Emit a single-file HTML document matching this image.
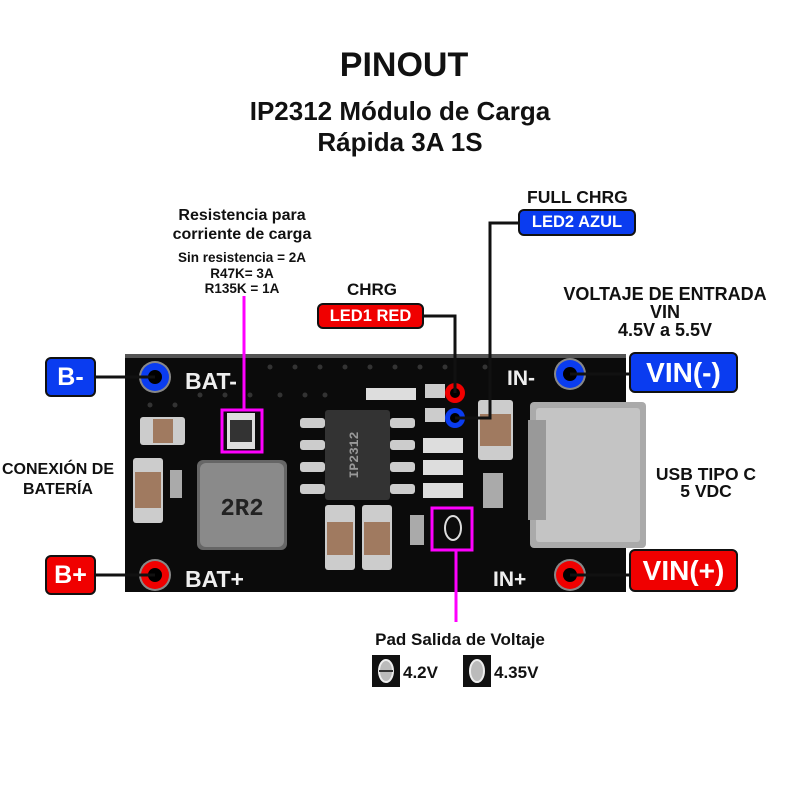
<!DOCTYPE html>
<html><head><meta charset="utf-8"><style>
html,body{margin:0;padding:0;background:#fff;}
body{width:800px;height:800px;position:relative;overflow:hidden;font-family:"Liberation Sans","DejaVu Sans",sans-serif;font-weight:bold;color:#111;}
.t{position:absolute;text-align:center;white-space:nowrap;}
.box{position:absolute;border:2px solid #111;border-radius:6px;color:#fff;display:flex;align-items:center;justify-content:center;box-sizing:border-box;}
.blue{background:#0a3cf0;}
.red{background:#f00000;}
</style></head><body>
<div class="t" style="left:0;width:808px;top:46px;font-size:34px;">PINOUT</div>
<div class="t" style="left:0;width:800px;top:96px;font-size:26px;line-height:31px;">IP2312 Módulo de Carga<br>Rápida 3A 1S</div>

<div class="t" style="left:142px;width:200px;top:206px;font-size:16px;line-height:19px;">Resistencia para<br>corriente de carga</div>
<div class="t" style="left:142px;width:200px;top:250px;font-size:13.5px;line-height:15.5px;">Sin resistencia = 2A<br>R47K= 3A<br>R135K = 1A</div>

<div class="t" style="left:322px;width:100px;top:280px;font-size:17px;">CHRG</div>
<div class="t" style="left:527px;width:100px;top:187px;font-size:17.5px;">FULL CHRG</div>
<div class="t" style="left:545px;width:240px;top:285px;font-size:18px;line-height:18px;">VOLTAJE DE ENTRADA<br>VIN<br>4.5V a 5.5V</div>
<div class="t" style="left:-2px;width:120px;top:460px;font-size:16px;line-height:20px;">CONEXIÓN DE<br>BATERÍA</div>
<div class="t" style="left:641px;width:130px;top:466px;font-size:17.5px;line-height:17px;">USB TIPO C<br>5 VDC</div>
<div class="t" style="left:350px;width:220px;top:630px;font-size:17px;">Pad Salida de Voltaje</div>

<svg width="800" height="800" style="position:absolute;left:0;top:0" xmlns="http://www.w3.org/2000/svg">
  <rect x="125" y="354" width="501" height="238" fill="#0b0b0b"/>
  <rect x="125" y="354" width="501" height="4" fill="#555"/>
  <g fill="#333">
    <circle cx="270" cy="367" r="2.5"/><circle cx="295" cy="367" r="2.5"/><circle cx="320" cy="367" r="2.5"/><circle cx="345" cy="367" r="2.5"/><circle cx="370" cy="367" r="2.5"/><circle cx="395" cy="367" r="2.5"/><circle cx="420" cy="367" r="2.5"/><circle cx="445" cy="367" r="2.5"/><circle cx="485" cy="367" r="2.5"/>
    <circle cx="150" cy="405" r="2.5"/><circle cx="175" cy="405" r="2.5"/><circle cx="200" cy="395" r="2.5"/><circle cx="225" cy="395" r="2.5"/><circle cx="250" cy="395" r="2.5"/><circle cx="280" cy="395" r="2.5"/><circle cx="305" cy="395" r="2.5"/><circle cx="325" cy="395" r="2.5"/>
  </g>
  <rect x="140" y="417" width="45" height="28" rx="3" fill="#ccc"/><rect x="153" y="419" width="20" height="24" fill="#a07a60"/>
  <rect x="133" y="458" width="30" height="65" rx="3" fill="#ccc"/><rect x="135" y="472" width="26" height="36" fill="#a07a60"/>
  <rect x="170" y="470" width="12" height="28" fill="#aaa"/>
  <rect x="227" y="413" width="28" height="36" fill="#ddd"/><rect x="230" y="420" width="22" height="22" fill="#333"/>
  <rect x="197" y="460" width="90" height="90" rx="6" fill="#666"/>
  <rect x="200" y="463" width="84" height="84" rx="6" fill="#8a8a8a"/>
  <text x="242" y="515" font-size="24" fill="#222" text-anchor="middle" font-family="Liberation Mono,monospace">2R2</text>
  <rect x="300" y="418" width="25" height="10" rx="3" fill="#ccc"/><rect x="300" y="440" width="25" height="10" rx="3" fill="#ccc"/><rect x="300" y="462" width="25" height="10" rx="3" fill="#ccc"/><rect x="300" y="484" width="25" height="10" rx="3" fill="#ccc"/>
  <rect x="390" y="418" width="25" height="10" rx="3" fill="#ccc"/><rect x="390" y="440" width="25" height="10" rx="3" fill="#ccc"/><rect x="390" y="462" width="25" height="10" rx="3" fill="#ccc"/><rect x="390" y="484" width="25" height="10" rx="3" fill="#ccc"/>
  <rect x="325" y="410" width="65" height="90" rx="3" fill="#333"/>
  <text x="358" y="455" font-size="13" fill="#999" text-anchor="middle" transform="rotate(-90 358 455)" font-family="Liberation Mono,monospace">IP2312</text>
  <rect x="366" y="388" width="50" height="12" fill="#ddd"/>
  <rect x="423" y="438" width="40" height="15" fill="#ddd"/>
  <rect x="423" y="460" width="40" height="15" fill="#ddd"/>
  <rect x="423" y="483" width="40" height="15" fill="#ddd"/>
  <rect x="425" y="384" width="20" height="14" fill="#ccc"/><rect x="425" y="408" width="20" height="14" fill="#ccc"/>
  <rect x="325" y="505" width="30" height="65" rx="3" fill="#ccc"/><rect x="327" y="522" width="26" height="33" fill="#a07a60"/>
  <rect x="362" y="505" width="30" height="65" rx="3" fill="#ccc"/><rect x="364" y="522" width="26" height="33" fill="#a07a60"/>
  <rect x="410" y="515" width="14" height="30" fill="#aaa"/>
  <ellipse cx="453" cy="528" rx="8" ry="12" fill="none" stroke="#ddd" stroke-width="2"/>
  <rect x="478" y="400" width="35" height="60" rx="3" fill="#ccc"/><rect x="480" y="414" width="31" height="32" fill="#a07a60"/>
  <rect x="483" y="473" width="20" height="35" fill="#aaa"/>
  <rect x="530" y="402" width="116" height="146" rx="4" fill="#aaa"/>
  <rect x="536" y="408" width="104" height="134" rx="3" fill="#c4c4c4"/>
  <rect x="528" y="420" width="18" height="100" fill="#999"/>
  <circle cx="155" cy="377" r="16" fill="#888"/><circle cx="155" cy="377" r="14" fill="#0a3cf0"/><circle cx="155" cy="377" r="7" fill="#000"/>
  <circle cx="155" cy="575" r="16" fill="#888"/><circle cx="155" cy="575" r="14" fill="#f00000"/><circle cx="155" cy="575" r="7" fill="#000"/>
  <circle cx="570" cy="374" r="16" fill="#888"/><circle cx="570" cy="374" r="14" fill="#0a3cf0"/><circle cx="570" cy="374" r="7" fill="#000"/>
  <circle cx="570" cy="575" r="16" fill="#888"/><circle cx="570" cy="575" r="14" fill="#f00000"/><circle cx="570" cy="575" r="7" fill="#000"/>
  <text x="185" y="389" font-size="23" fill="#eee" font-family="Liberation Sans" font-weight="bold">BAT-</text>
  <text x="185" y="587" font-size="23" fill="#eee" font-family="Liberation Sans" font-weight="bold">BAT+</text>
  <text x="507" y="385" font-size="21" fill="#eee" font-family="Liberation Sans" font-weight="bold">IN-</text>
  <text x="493" y="586" font-size="21" fill="#eee" font-family="Liberation Sans" font-weight="bold">IN+</text>
  <circle cx="455" cy="393" r="10" fill="#f00000"/><circle cx="455" cy="393" r="5" fill="#000"/>
  <circle cx="455" cy="418" r="10" fill="#0a3cf0"/><circle cx="455" cy="418" r="5" fill="#000"/>
  <g stroke="#111" stroke-width="3" fill="none">
    <line x1="95" y1="377" x2="155" y2="377"/>
    <line x1="95" y1="575" x2="155" y2="575"/>
    <line x1="570" y1="374" x2="630" y2="374"/>
    <line x1="570" y1="575" x2="630" y2="575"/>
    <polyline points="423,316 455,316 455,393"/>
    <polyline points="518,223 490,223 490,418 455,418"/>
  </g>
  <g stroke="#ff00ff" stroke-width="3" fill="none">
    <line x1="244" y1="296" x2="244" y2="410"/>
    <rect x="222" y="410" width="40" height="42"/>
    <rect x="432" y="508" width="40" height="42"/>
    <line x1="456" y1="550" x2="456" y2="622"/>
  </g>
  <rect x="372" y="655" width="28" height="32" fill="#111"/>
  <ellipse cx="386" cy="671" rx="7" ry="11" fill="#bbb" stroke="#eee" stroke-width="2"/>
  <line x1="379" y1="671" x2="393" y2="671" stroke="#333" stroke-width="2"/>
  <rect x="463" y="655" width="28" height="32" fill="#111"/>
  <ellipse cx="477" cy="671" rx="7" ry="11" fill="#bbb" stroke="#eee" stroke-width="2"/>
  <text x="403" y="678" font-size="17" fill="#111" font-weight="bold" font-family="Liberation Sans">4.2V</text>
  <text x="494" y="678" font-size="17" fill="#111" font-weight="bold" font-family="Liberation Sans">4.35V</text>
</svg>

<div class="box blue" style="left:45px;top:357px;width:51px;height:40px;font-size:25px;">B-</div>
<div class="box red" style="left:45px;top:555px;width:51px;height:40px;font-size:25px;">B+</div>
<div class="box blue" style="left:629px;top:352px;width:109px;height:41px;font-size:28px;">VIN(-)</div>
<div class="box red" style="left:629px;top:549px;width:109px;height:43px;font-size:28px;">VIN(+)</div>
<div class="box red" style="left:317px;top:303px;width:107px;height:26px;font-size:16.5px;">LED1 RED</div>
<div class="box blue" style="left:518px;top:209px;width:118px;height:27px;font-size:16.5px;">LED2 AZUL</div>
</body></html>
